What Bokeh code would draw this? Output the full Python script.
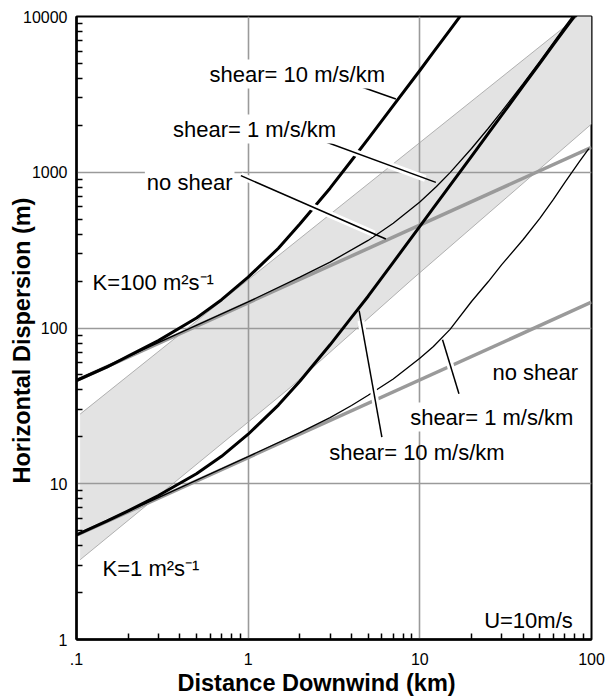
from math import log10
from bokeh.plotting import figure
from bokeh.models import Range1d, FixedTicker, CustomJSTickFormatter, Label, Title
from bokeh.embed import file_html
from bokeh.resources import INLINE

FONT = "Liberation Sans"

# ---------------- axes / ticks ----------------
x_ticks = [0.1, 1, 10, 100]
x_tick_labels = [".1", "1", "10", "100"]
y_ticks = [1, 10, 100, 1000, 10000]
y_tick_labels = ["1", "10", "100", "1000", "10000"]
minor_multipliers = [2, 3, 4, 5, 6, 7, 8, 9]

# ---------------- data ----------------
# shaded band
band_upper_x = [0.105, 100]
band_upper_y = [28, 11800]
band_lower_x = [0.105, 1.77, 8.87, 100]
band_lower_y = [3.25, 41.7, 202, 2040]

# no shear (grey) lines
k100_noshear_x = [0.1, 100]
k100_noshear_y = [46, 1445]
k1_noshear_x = [0.1, 100]
k1_noshear_y = [4.67, 146.5]

# K = 100, shear = 10 m/s/km (thick)
k100_s10_x = [0.1, 0.15, 0.2, 0.3, 0.5, 0.7, 1, 1.5, 2, 3, 4, 5, 7, 10, 12, 15, 20]
k100_s10_y = [46, 56, 66, 83, 116, 152, 212, 325, 465, 790, 1190, 1640, 2680, 4500, 5900, 8200, 12600]

# K = 100, shear = 1 m/s/km (thin)
k100_s1_x = [0.1, 0.3, 1, 2, 3, 5, 7, 10, 12.5, 15, 20, 25, 30, 40, 50, 60, 70, 80]
k100_s1_y = [46.5, 80.5, 147, 212, 265, 365, 470, 645, 810, 995, 1420, 1910, 2460, 3700, 5150, 6800, 8600, 10500]

# K = 1, shear = 10 m/s/km (thick)
k1_s10_x = [0.1, 0.15, 0.2, 0.3, 0.5, 0.7, 1, 1.5, 2, 3, 4, 5, 7, 10, 12, 15, 20, 25, 30, 40, 50, 60, 70, 80]
k1_s10_y = [4.7, 5.75, 6.7, 8.4, 11.6, 15, 20.8, 32, 45.5, 78, 117, 160, 264, 449, 590, 823, 1266, 1770,
            2325, 3580, 5000, 6600, 8300, 10100]

# K = 1, shear = 1 m/s/km (thin)
k1_s1_x = [0.1, 0.3, 1, 2, 3, 4, 5, 7, 10, 12, 15, 20, 25, 30, 40, 50, 60, 70, 85, 96.5]
k1_s1_y = [4.72, 8.15, 14.95, 21.3, 26.6, 31.8, 37, 47, 64, 76, 98, 148, 198, 255, 370, 505, 670, 860, 1170, 1420]

# leader lines: (curve point) -> (label point)
leader_x0 = [7.25, 12.4, 6.34, 4.43, 13.56]
leader_y0 = [2950, 861, 373, 129.5, 84]
leader_x1 = [3.87, 2.12, 0.907, 6.01, 16.9]
leader_y1 = [3773, 1761, 951, 19.9, 37.8]

# annotation texts (left / baseline anchor, data coordinates)
ann_text = ["shear= 10 m/s/km", "shear= 1 m/s/km", "no shear",
            "K=100 m\u00b2s\u207b\u00b9", "K=1 m\u00b2s\u207b\u00b9",
            "no shear", "shear= 1 m/s/km", "shear= 10 m/s/km", "U=10m/s"]
ann_x = [0.580, 0.355, 0.2502, 0.1241, 0.1419, 26.5, 8.55, 2.963, 23.69]
ann_y = [4272, 1895, 861, 196.7, 2.854, 52.06, 26.8, 15.97, 1.33]
ann_bg = [True, True, True, False, False, False, True, False, False]

x_title = "Distance Downwind (km)"
y_title = "Horizontal Dispersion (m)"

# ---------------- figure ----------------
p = figure(width=613, height=698, x_axis_type="log", y_axis_type="log",
           x_range=Range1d(0.1, 100), y_range=Range1d(1, 10000),
           output_backend="svg", toolbar_location=None,
           min_border_left=76, min_border_right=22, min_border_top=16, min_border_bottom=59)

x_minor = [m * d for d in x_ticks[:-1] for m in minor_multipliers]
y_minor = [m * d for d in y_ticks[:-1] for m in minor_multipliers]
xt = FixedTicker(ticks=x_ticks, minor_ticks=x_minor)
yt = FixedTicker(ticks=y_ticks, minor_ticks=y_minor)
p.xaxis.ticker = xt
p.yaxis.ticker = yt
p.xgrid.ticker = xt
p.ygrid.ticker = yt

fmt_code = """
const lt = Math.log10(tick);
let best = 0, bd = 1e9;
for (let i = 0; i < tv.length; i++) {
  const d = Math.abs(lt - Math.log10(tv[i]));
  if (d < bd) { bd = d; best = i; }
}
return lb[best];
"""
p.xaxis.formatter = CustomJSTickFormatter(args=dict(tv=x_ticks, lb=x_tick_labels), code=fmt_code)
p.yaxis.formatter = CustomJSTickFormatter(args=dict(tv=y_ticks, lb=y_tick_labels), code=fmt_code)

for ax in (p.xaxis[0], p.yaxis[0]):
    ax.axis_line_color = "black"
    ax.axis_line_width = 2.5
    ax.major_tick_in = 0
    ax.major_tick_out = 0
    ax.minor_tick_in = 6
    ax.minor_tick_out = 0
    ax.minor_tick_line_color = "black"
    ax.minor_tick_line_width = 1.5
    ax.major_label_text_font = FONT
    ax.major_label_text_font_size = "16px"
    ax.major_label_text_color = "black"
p.xaxis.major_label_standoff = 13
p.yaxis.major_label_standoff = 9

p.grid.grid_line_color = "#9a9a9a"
p.grid.grid_line_width = 1.6
p.outline_line_color = "black"
p.outline_line_width = 2
p.background_fill_color = "white"
p.border_fill_color = "white"

# band
band_x = band_upper_x + band_lower_x[::-1]
band_y = band_upper_y + band_lower_y[::-1]
p.patch(band_x, band_y, fill_color="#e3e3e3", line_alpha=0, level="image")
p.line(band_upper_x, band_upper_y, line_color="#a0a0a0", line_width=0.8, level="image")
p.line(band_lower_x, band_lower_y, line_color="#a0a0a0", line_width=0.8, level="image")

GREY = "#9a9a9a"
p.line(k100_noshear_x, k100_noshear_y, line_color=GREY, line_width=3.5, line_cap="butt")
p.line(k1_noshear_x, k1_noshear_y, line_color=GREY, line_width=3.5, line_cap="butt")

p.line(k100_s1_x, k100_s1_y, line_color="black", line_width=1.3)
p.line(k1_s1_x, k1_s1_y, line_color="black", line_width=1.3)
p.line(k100_s10_x, k100_s10_y, line_color="black", line_width=3, line_join="round")
p.line(k1_s10_x, k1_s10_y, line_color="black", line_width=3, line_join="round")


def lerp_log(a, b, t):
    return 10 ** (log10(a) + t * (log10(b) - log10(a)))


for x0, y0, x1, y1 in zip(leader_x0, leader_y0, leader_x1, leader_y1):
    hx0, hy0 = lerp_log(x0, x1, 0.08), lerp_log(y0, y1, 0.08)
    p.line([hx0, x1], [hy0, y1], line_color="white", line_width=7, line_cap="butt")
for x0, y0, x1, y1 in zip(leader_x0, leader_y0, leader_x1, leader_y1):
    p.line([x0, x1], [y0, y1], line_color="black", line_width=1.5)

for t, x, y, bg in zip(ann_text, ann_x, ann_y, ann_bg):
    lab = Label(x=x, y=y, text=t, text_font=FONT, text_font_size="22px",
                text_color="black", text_align="left", text_baseline="alphabetic")
    if bg:
        lab.background_fill_color = "white"
        lab.padding = 2
    p.add_layout(lab)

p.add_layout(Title(text=x_title, align="left", offset=101, vertical_align="bottom", standoff=0,
                   text_font=FONT, text_font_size="23.5px", text_font_style="bold",
                   text_color="black"), "below")
p.add_layout(Title(text=y_title, align="left", offset=156, vertical_align="bottom", standoff=-28,
                   text_font=FONT, text_font_size="23.5px", text_font_style="bold",
                   text_color="black"), "left")

open("out.html", "w").write(file_html(p, INLINE))
